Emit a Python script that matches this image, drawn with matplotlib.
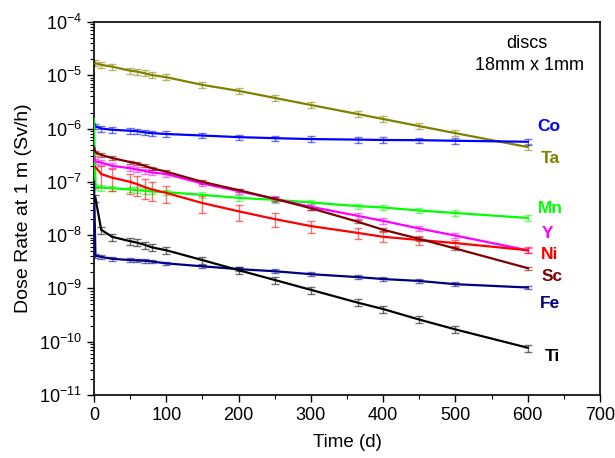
import matplotlib
matplotlib.use("Agg")
import matplotlib.pyplot as plt
from matplotlib.ticker import LogLocator, MultipleLocator, NullFormatter
import numpy as np

plt.rcParams['font.family'] = ['Liberation Sans', 'DejaVu Sans']
plt.rcParams['mathtext.fontset'] = 'custom'
plt.rcParams['mathtext.rm'] = 'Liberation Sans'
plt.rcParams['mathtext.it'] = 'Liberation Sans:italic'
plt.rcParams['mathtext.bf'] = 'Liberation Sans:bold'

# measurement times (d)
days = [2, 10, 25, 50, 60, 70, 80, 100, 150, 200, 250, 300, 365, 400, 450, 500, 600]

# dose rates at 1 m (Sv/h)
ta = [1.68e-5, 1.57e-5, 1.45e-5, 1.22e-5, 1.17e-5, 1.09e-5, 1.01e-5, 9.2e-6, 6.6e-6,
      5.1e-6, 3.76e-6, 2.77e-6, 1.87e-6, 1.51e-6, 1.11e-6, 8.2e-7, 4.5e-7]
co = [1.1e-6, 1.0e-6, 9.5e-7, 9.1e-7, 8.9e-7, 8.5e-7, 8.2e-7, 7.9e-7, 7.4e-7,
      6.9e-7, 6.6e-7, 6.35e-7, 6.2e-7, 6.1e-7, 6.05e-7, 5.9e-7, 5.65e-7]
mn = [8.0e-8, 7.8e-8, 7.6e-8, 7.2e-8, 7.0e-8, 6.8e-8, 6.6e-8, 6.4e-8, 5.7e-8,
      5.0e-8, 4.6e-8, 4.1e-8, 3.5e-8, 3.3e-8, 2.9e-8, 2.6e-8, 2.1e-8]
y88 = [2.4e-7, 2.3e-7, 2.0e-7, 1.8e-7, 1.7e-7, 1.6e-7, 1.5e-7, 1.4e-7, 9.3e-8,
       6.7e-8, 4.8e-8, 3.4e-8, 2.3e-8, 1.85e-8, 1.33e-8, 9.8e-9, 5.2e-9]
ni = [1.9e-7, 1.4e-7, 1.2e-7, 1.0e-7, 9.0e-8, 8.0e-8, 7.2e-8, 6.2e-8, 4.0e-8,
      2.8e-8, 2.0e-8, 1.48e-8, 1.1e-8, 9.3e-9, 8.1e-9, 7.1e-9, 5.2e-9]
sc = [3.6e-7, 3.2e-7, 2.8e-7, 2.35e-7, 2.2e-7, 2.0e-7, 1.8e-7, 1.55e-7, 1.0e-7,
      7.0e-8, 4.8e-8, 3.2e-8, 1.78e-8, 1.26e-8, 8.5e-9, 5.6e-9, 2.4e-9]
fe = [4.1e-9, 3.9e-9, 3.6e-9, 3.4e-9, 3.35e-9, 3.3e-9, 3.2e-9, 2.95e-9, 2.6e-9,
      2.3e-9, 2.1e-9, 1.85e-9, 1.63e-9, 1.5e-9, 1.38e-9, 1.2e-9, 1.04e-9]
ti = [5.0e-8, 1.26e-8, 9.3e-9, 7.7e-9, 7.2e-9, 6.6e-9, 5.9e-9, 5.2e-9, 3.4e-9,
      2.2e-9, 1.44e-9, 9.4e-10, 5.4e-10, 4.1e-10, 2.6e-10, 1.7e-10, 7.7e-11]

# line value at t = 0 (None = line starts at first point)
start_vals = [None, 1.3e-6, 1.5e-6, 3.0e-7, None, 4.5e-7, 1.0e-7, 5.5e-8]

# relative uncertainties
rel_err = [0.13, 0.12, 0.12, 0.11, None, 0.07, 0.08, 0.15]
ni_err = [0.6, 0.44, 0.44, 0.4, 0.4, 0.4, 0.38, 0.35, 0.35,
          0.33, 0.3, 0.25, 0.22, 0.21, 0.21, 0.13, 0.13]

names = ['Ta', 'Co', 'Mn', 'Y', 'Ni', 'Sc', 'Fe', 'Ti']
series = [ta, co, mn, y88, ni, sc, fe, ti]
colors = ['#808000', '#0000FF', '#00FF00', '#FF00FF', '#FF0000', '#800000', '#000080', '#000000']

fig = plt.figure(figsize=(6.15, 4.58), dpi=100)
ax = fig.add_axes([0.1528, 0.1376, 0.8228, 0.8144])

t = np.array(days, dtype=float)
for name, vals, col, s0, r in zip(names, series, colors, start_vals, rel_err):
    v = np.array(vals)
    if name == 'Ni':
        err = v * np.array(ni_err)
    else:
        err = v * r
    ax.errorbar(t, v, yerr=err, fmt='none', ecolor=col, elinewidth=1.0,
                capsize=3, capthick=1.0, alpha=0.55, zorder=2)
    if s0 is not None:
        lt = np.concatenate([[0.0], t])
        lv = np.concatenate([[s0], v])
    else:
        lt, lv = t, v
    ax.plot(lt, lv, '-', color=col, lw=1.6, zorder=3)

ax.set_yscale('log')
ax.set_xlim(0, 700)
ax.set_ylim(1e-11, 1e-4)
ax.xaxis.set_major_locator(MultipleLocator(100))
ax.xaxis.set_minor_locator(MultipleLocator(50))
ax.yaxis.set_major_locator(LogLocator(base=10, numticks=20))
ax.yaxis.set_minor_locator(LogLocator(base=10, subs=np.arange(2, 10), numticks=20))
ax.yaxis.set_minor_formatter(NullFormatter())
ax.tick_params(which='major', direction='out', length=5, width=1, labelsize=13,
               top=False, right=False)
ax.tick_params(which='minor', direction='out', length=3, width=0.8, top=False, right=False)
for sp in ax.spines.values():
    sp.set_linewidth(1.2)

ax.set_xlabel('Time (d)', fontsize=13.5, labelpad=7)
ax.set_ylabel('Dose Rate at 1 m (Sv/h)', fontsize=14, labelpad=5)

label_y = [0.635, 0.721, 0.499, 0.432, 0.376, 0.317, 0.244, 0.102]
label_x = [0.901, 0.899, 0.901, 0.897, 0.901, 0.905, 0.901, 0.905]
for name, col, lx, ly in zip(names, colors, label_x, label_y):
    ax.text(lx, ly, name, color=col, fontsize=12.5, fontweight='bold',
            ha='center', va='center', transform=ax.transAxes)

ax.text(0.856, 0.941, 'discs', fontsize=13, ha='center', va='center', transform=ax.transAxes)
ax.text(0.860, 0.882, '18mm x 1mm', fontsize=13, ha='center', va='center', transform=ax.transAxes)

fig.savefig('out.png', dpi=100)
